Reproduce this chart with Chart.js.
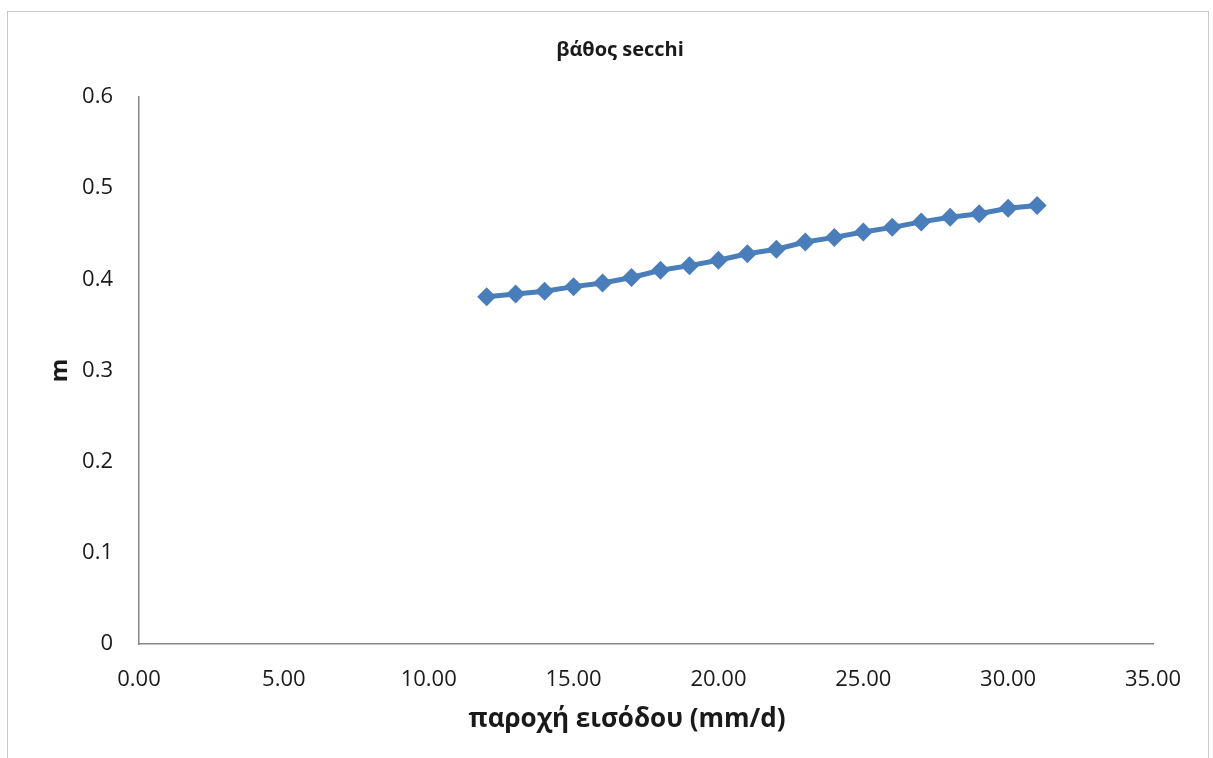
<!DOCTYPE html>
<html>
<head>
<meta charset="utf-8">
<script src="https://cdn.jsdelivr.net/npm/chart.js@4"></script>
<style>
  html, body { margin: 0; padding: 0; background: #fff; }
  #wrap { position: relative; width: 1213px; height: 758px; overflow: hidden; }
  #frame {
    position: absolute; left: 7px; top: 11px; width: 1202px; height: 800px;
    border: 1px solid #c8c8c8; box-sizing: border-box;
  }
  #grafico { position: absolute; left: 0; top: 0; }
</style>
</head>
<body>
<div id="wrap">
  <div id="frame"></div>
  <canvas id="grafico" width="1213" height="758"></canvas>
</div>
<script>
// παροχή εισόδου (mm/d)
const paroxi = [12, 13, 14, 15, 16, 17, 18, 19, 20, 21, 22, 23, 24, 25, 26, 27, 28, 29, 30, 31];
// βάθος secchi (m)
const secchi = [0.381, 0.384, 0.387, 0.392, 0.396, 0.402, 0.410, 0.415, 0.421, 0.428,
                0.433, 0.441, 0.446, 0.452, 0.457, 0.463, 0.468, 0.472, 0.478, 0.481];

const xTicks = [0, 5, 10, 15, 20, 25, 30, 35];
const yTicks = [0, 0.1, 0.2, 0.3, 0.4, 0.5, 0.6];

const titulo = "βάθος secchi";
const xTitulo = "παροχή εισόδου (mm/d)";
const yTitulo = "m";

const cor = "#4a7ebb";
const fonte = "'Open Sans', 'Noto Sans', sans-serif";

const pontos = paroxi.map((x, i) => ({ x: x, y: secchi[i] }));

// títulos desenhados à mão: o Excel centra-os na área do gráfico inteira
const titulos = {
  id: "titulos",
  afterDraw(chart) {
    const c = chart.ctx;
    c.save();
    c.fillStyle = "#1a1a1a";
    c.textAlign = "center";
    c.textBaseline = "middle";
    c.font = "bold 20px " + fonte;
    c.fillText(titulo, 620, 50);
    c.font = "bold 26px " + fonte;
    c.fillText(xTitulo, 627, 720);
    c.restore();
  },
};

const ctx = document.getElementById("grafico");

const chart = new Chart(ctx, {
  type: "line",
  data: {
    datasets: [
      {
        label: titulo,
        data: pontos,
        borderColor: cor,
        backgroundColor: cor,
        borderWidth: 5,
        pointStyle: "rectRot",
        pointRadius: 9.5,
        pointBackgroundColor: cor,
        pointBorderColor: cor,
        pointBorderWidth: 0,
        tension: 0,
      },
    ],
  },
  options: {
    responsive: false,
    animation: false,
    layout: {
      padding: { left: 0, right: 60, top: 97, bottom: 0 },
    },
    scales: {
      x: {
        type: "linear",
        min: 0,
        max: 35,
        afterBuildTicks: (scale) => {
          scale.ticks = xTicks.map((v) => ({ value: v }));
        },
        afterFit: (scale) => {
          scale.height = 114;
        },
        grid: { display: false, drawTicks: false },
        border: { display: true, color: "#878787", width: 1.5 },
        ticks: {
          padding: 23,
          color: "#1a1a1a",
          font: { family: fonte, size: 22 },
          callback: (v) => Number(v).toFixed(2),
        },
      },
      y: {
        min: 0,
        max: 0.6,
        afterBuildTicks: (scale) => {
          scale.ticks = yTicks.map((v) => ({ value: v }));
        },
        afterFit: (scale) => {
          scale.width = 139;
        },
        grid: { display: false, drawTicks: false },
        border: { display: true, color: "#878787", width: 1.5 },
        ticks: {
          padding: 26,
          color: "#1a1a1a",
          font: { family: fonte, size: 22 },
          callback: (v) => String(Number(Number(v).toFixed(1))),
        },
        title: {
          display: true,
          text: yTitulo,
          color: "#1a1a1a",
          font: { family: fonte, size: 24, weight: "bold" },
          padding: { top: 46, bottom: 0 },
        },
      },
    },
    plugins: {
      legend: { display: false },
      tooltip: { enabled: false },
      title: { display: false },
    },
  },
  plugins: [titulos],
});
</script>
</body>
</html>
